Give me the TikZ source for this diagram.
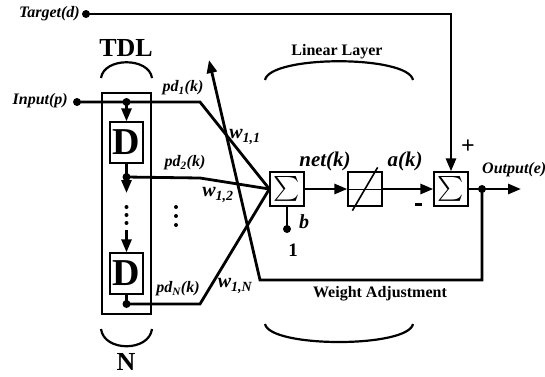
\documentclass[tikz,border=0pt]{standalone}
\usepackage{exscale}
\usepackage{fontspec}
\setmainfont{Liberation Serif}
\usetikzlibrary{arrows.meta}
\tikzset{
 wire/.style={line width=2.8pt},
 arr/.style={wire,-{Triangle[length=13pt,width=10pt]}},
 blk/.style={draw,line width=1.3pt,minimum width=34pt,minimum height=34pt,inner sep=0pt,fill=white},
 dblk/.style={draw,line width=1.3pt,minimum width=33pt,minimum height=41pt,inner sep=0pt,fill=white,font=\fontsize{38}{38}\selectfont\bfseries},
 dot/.style={circle,fill,inner sep=0pt,minimum size=8pt},
 lab/.style={font=\fontsize{16}{18}\selectfont\bfseries\itshape,inner sep=0pt},
 wlab/.style={font=\fontsize{20}{20}\selectfont\bfseries\itshape,inner sep=0pt},
 big/.style={font=\fontsize{21}{22}\selectfont\bfseries\itshape,inner sep=0pt},
 title/.style={font=\fontsize{16}{18}\selectfont\bfseries,inner sep=0pt},
 huge/.style={font=\fontsize{26}{28}\selectfont\bfseries,inner sep=0pt},
 brace/.style={line width=2.2pt},
 sumsym/.style={font=\fontsize{23}{23}\selectfont}
}
\begin{document}
\begin{tikzpicture}[x=1pt,y=-1pt]
\useasboundingbox (0,0) rectangle (545,376);
% blocks
\node[draw,line width=1.1pt,minimum width=49pt,minimum height=221pt,inner sep=0pt] (tdl) at (126.5,203.5) {};
\node[dblk] (d1) at (126.5,142.5) {D};
\node[dblk] (d2) at (126.5,273.5) {D};
\node[blk,sumsym] (s1) at (287,189) {$\textstyle\sum$};
\node[blk] (lin) at (365,189) {};
\node[blk,sumsym] (s2) at (451,189) {$\textstyle\sum$};
\draw[line width=0.6pt] (lin.west) -- (lin.east);
\draw[line width=1.6pt] ([shift={(5pt,-4pt)}]lin.south west) -- ([shift={(-5pt,4pt)}]lin.north east);
% texts
\node[lab,anchor=east] (tgt) at (80,14) {Target(d)};
\node[lab,anchor=east] (inp) at (68,101) {Input(p)};
\node[lab,anchor=west] (out) at (482,170) {Output(e)};
\node[huge] (tdltxt) at (126,48) {TDL};
\node[huge] (ntxt) at (126,362) {N};
\node[title] (ll) at (337,52) {Linear Layer};
\node[title] (wa) at (380,294) {Weight Adjustment};
\node[big] (net) at (325,161) {net(k)};
\node[big] (ak) at (405,161) {a(k)};
\node[lab] (pd1) at (183,88) {pd\textsubscript{1}(k)};
\node[lab] (pd2) at (185,163) {pd\textsubscript{2}(k)};
\node[lab] (pdn) at (178,289) {pd\textsubscript{N}(k)};
\node[wlab] (w11) at (245,137) {w\textsubscript{1,1}};
\node[wlab] (w12) at (218,195) {w\textsubscript{1,2}};
\node[wlab] (w1n) at (235,286) {w\textsubscript{1,N}};
\node[font=\fontsize{24}{24}\selectfont\bfseries,inner sep=0pt] (plus) at (468,147) {+};
\node[fill,minimum width=7pt,minimum height=3pt,inner sep=0pt] (minus) at (418,204) {};
\node[font=\fontsize{20}{20}\selectfont\bfseries\itshape,inner sep=0pt] (btxt) at (304,222) {b};
\node[font=\fontsize{19}{20}\selectfont\bfseries,inner sep=0pt] (one) at (293,250) {1};
% dots
\node[dot] (tdot) at (86,14) {};
\node[dot] (indot) at (77,102) {};
\node[dot] (j1) at (126.5,102) {};
\node[dot] (j2) at (126.5,177) {};
\node[dot] (j3) at (126.5,304) {};
\node[dot] (oj) at (482,189) {};
\node[dot] (bdot) at (287,229) {};
\coordinate (tc) at (451,14);
\coordinate (c1) at (200,102);
\coordinate (c2) at (200,178);
\coordinate (c3) at (200,304);
\coordinate (oend) at (521,189);
\coordinate (fb1) at (260,280);
\coordinate (fbtip) at (209,60);
\coordinate (a2s) at (126.5,193);
\coordinate (a3s) at (126.5,230);
\node[circle,fill,inner sep=0pt,minimum size=4pt] (v1) at (126.5,207) {};
\node[circle,fill,inner sep=0pt,minimum size=4pt] (v2) at (126.5,215) {};
\node[circle,fill,inner sep=0pt,minimum size=4pt] (v3) at (126.5,223) {};
\node[circle,fill,inner sep=0pt,minimum size=4pt] (h1) at (176,207) {};
\node[circle,fill,inner sep=0pt,minimum size=4pt] (h2) at (176,216) {};
\node[circle,fill,inner sep=0pt,minimum size=4pt] (h3) at (176,225) {};
% wires
\draw[arr] (tdot.center) -- (tc) -- (s2.north);
\draw[wire] (indot.center) -- (j1.center) -- (c1) -- (s1.west);
\draw[arr] (j1.center) -- (d1.north);
\draw[wire] (d1.south) -- (j2.center);
\draw[arr] (j2.center) -- (a2s);
\draw[arr] (a3s) -- (d2.north);
\draw[wire] (d2.south) -- (j3.center);
\draw[wire] (j2.center) -- (c2) -- (s1.west);
\draw[wire] (j3.center) -- (c3) -- (s1.west);
\draw[arr] (s1.east) -- (lin.west);
\draw[arr] (lin.east) -- (s2.west);
\draw[arr] (s2.east) -- (oend);
\draw[arr] (oj.center) -- (oj.center |- fb1) -- (fb1) -- (fbtip);
\draw[wire] (s1.south) -- (bdot.center);
% braces
\draw[brace] (101,78) .. controls (104,57) and (149,57) .. (152,78);
\draw[brace] (101,329) .. controls (104,352) and (149,352) .. (152,329);
\draw[brace] (265,80) .. controls (270,55) and (408,55) .. (413,80);
\draw[brace] (265,324) .. controls (270,348) and (408,348) .. (413,324);
\end{tikzpicture}
\end{document}
